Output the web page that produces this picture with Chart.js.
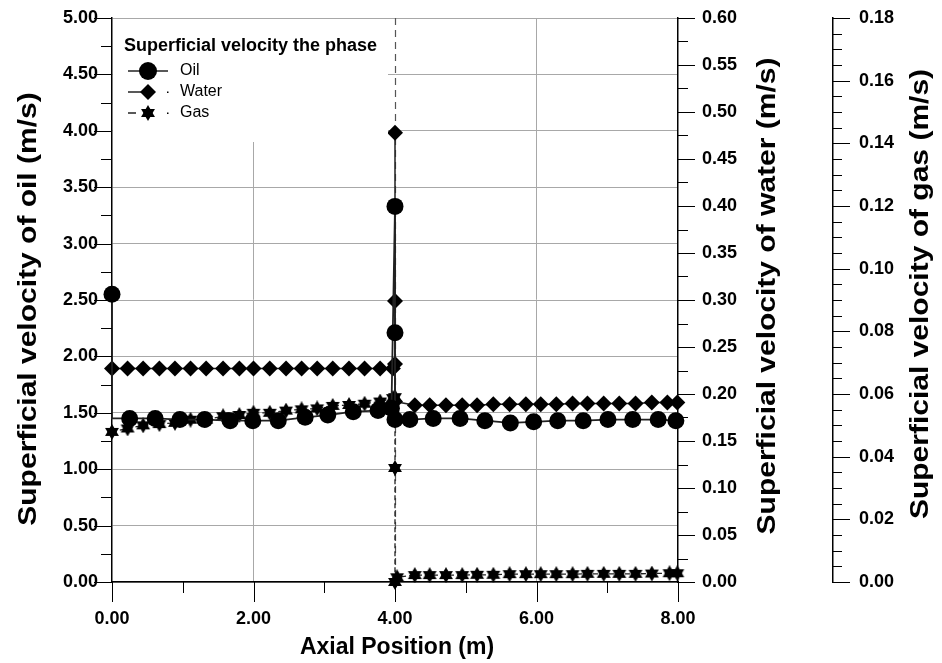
<!DOCTYPE html>
<html>
<head>
<meta charset="utf-8">
<script src="https://cdn.jsdelivr.net/npm/chart.js@4.4.1/dist/chart.umd.min.js"></script>
<style>
  html, body { margin: 0; padding: 0; background: #fff; }
  #wrap { width: 942px; height: 663px; }
</style>
</head>
<body>
<div id="wrap"><canvas id="chart" width="942" height="663"></canvas></div>
<script>
// Axial position (m) and superficial velocity of oil (m/s)
const oilX = [0, 0, 0.25, 0.61, 0.96, 1.31, 1.67, 1.99, 2.35, 2.73, 3.05, 3.41, 3.76, 3.95,
  4.0, 4.0, 4.0, 4.21, 4.54, 4.92, 5.27, 5.63, 5.96, 6.30, 6.66, 7.01, 7.36, 7.72, 7.97];
const oilY = [2.55, 1.45, 1.45, 1.45, 1.44, 1.44, 1.43, 1.43, 1.43, 1.46, 1.48, 1.51, 1.52, 1.54,
  3.33, 2.21, 1.44, 1.44, 1.45, 1.45, 1.43, 1.41, 1.42, 1.43, 1.43, 1.44, 1.44, 1.44, 1.43];

// water (m/s), right axis
const waterX = [0, 0.22, 0.44, 0.67, 0.89, 1.11, 1.33, 1.57, 1.80, 2.00, 2.23, 2.46, 2.68, 2.90,
  3.12, 3.35, 3.57, 3.79, 3.97, 4.0, 4.0, 4.0, 4.0, 4.28, 4.49, 4.72, 4.95, 5.16, 5.39, 5.62,
  5.85, 6.06, 6.28, 6.51, 6.72, 6.95, 7.17, 7.40, 7.63, 7.85, 7.99];
const waterY = [0.227, 0.227, 0.227, 0.227, 0.227, 0.227, 0.227, 0.227, 0.227, 0.227, 0.227,
  0.227, 0.227, 0.227, 0.227, 0.227, 0.227, 0.227, 0.227, 0.232, 0.299, 0.478, 0.192, 0.188,
  0.188, 0.188, 0.188, 0.188, 0.189, 0.189, 0.189, 0.189, 0.189, 0.190, 0.190, 0.190, 0.190,
  0.190, 0.191, 0.191, 0.191];

// gas (m/s), outer right axis
const gasX = [0, 0.22, 0.44, 0.67, 0.89, 1.11, 1.33, 1.57, 1.80, 2.00, 2.23, 2.46, 2.68, 2.90,
  3.12, 3.35, 3.57, 3.79, 3.97, 4.0, 4.0, 4.0, 4.03, 4.28, 4.49, 4.72, 4.95, 5.16, 5.39, 5.62,
  5.85, 6.06, 6.28, 6.51, 6.72, 6.95, 7.17, 7.40, 7.63, 7.88, 7.99];
const gasY = [0.0479, 0.0490, 0.0500, 0.0504, 0.0508, 0.0518, 0.0518, 0.0529, 0.0533, 0.0540,
  0.0540, 0.0547, 0.0551, 0.0554, 0.0562, 0.0565, 0.0569, 0.0576, 0.0587, 0.0590, 0.0364, 0.0,
  0.0015, 0.0022, 0.0022, 0.0022, 0.0022, 0.0023, 0.0023, 0.0025, 0.0025, 0.0025, 0.0025,
  0.0025, 0.0026, 0.0026, 0.0026, 0.0026, 0.0027, 0.0028, 0.0028];

// axis ranges and tick steps
const xRange = [0, 8], xMajor = 2, xMinor = 1;
const oilRange = [0, 5], oilMajor = 0.5, oilMinor = 0.25;
const waterRange = [0, 0.6], waterMajor = 0.05, waterMinor = 0.025;
const gasRange = [0, 0.18], gasMajor = 0.02, gasMinor = 0.005;
const seriesNames = ['Oil', 'Water', 'Gas'];

const FONT = '"Liberation Sans", Arial, sans-serif';
const ink = '#000';
const lineInk = '#222';
const gridInk = '#a8a8a8';

function pts(xs, ys) { return xs.map((x, i) => ({ x: x, y: ys[i] })); }

// six pointed star marker
function hexagram(size) {
  const c = document.createElement('canvas');
  c.width = c.height = size;
  const g = c.getContext('2d');
  const r = size / 2;
  g.fillStyle = ink;
  for (let k = 0; k < 2; k++) {
    g.beginPath();
    for (let i = 0; i < 3; i++) {
      const a = -Math.PI / 2 + k * Math.PI + i * 2 * Math.PI / 3;
      g.lineTo(r + r * Math.cos(a), r + r * Math.sin(a));
    }
    g.closePath();
    g.fill();
  }
  return c;
}
const starImg = hexagram(16);

// minor/major tick marks drawn outside each axis
function tickMarks(ctx, scale, range, major, minor, side, majLen, minLen) {
  const n = Math.round((range[1] - range[0]) / minor);
  const every = Math.round(major / minor);
  ctx.beginPath();
  for (let i = 0; i <= n; i++) {
    const v = range[0] + i * minor;
    const len = i % every === 0 ? majLen : minLen;
    const p = Math.round(scale.getPixelForValue(v)) + 0.5;
    if (side === 'bottom') { ctx.moveTo(p, scale.top); ctx.lineTo(p, scale.top + len); }
    else if (side === 'left') { ctx.moveTo(scale.right, p); ctx.lineTo(scale.right - len, p); }
    else { ctx.moveTo(scale.left, p); ctx.lineTo(scale.left + len, p); }
  }
  ctx.stroke();
}

// keep tick label overflow from pushing the plot area down
const noPad = sc => { sc.paddingTop = 0; sc.paddingBottom = 0; };

const decorPlugin = {
  id: 'decor',
  beforeDatasetsDraw(chart) {
    const ctx = chart.ctx, a = chart.chartArea;
    const x4 = chart.scales.x.getPixelForValue(4);
    ctx.save();
    ctx.strokeStyle = '#555';
    ctx.lineWidth = 1.2;
    ctx.setLineDash([7, 5]);
    ctx.beginPath();
    ctx.moveTo(Math.round(x4) + 0.5, a.top);
    ctx.lineTo(Math.round(x4) + 0.5, a.bottom);
    ctx.stroke();
    ctx.restore();
  },
  afterDraw(chart) {
    const ctx = chart.ctx, s = chart.scales, a = chart.chartArea;
    ctx.save();
    ctx.strokeStyle = ink;
    ctx.lineWidth = 1;
    tickMarks(ctx, s.x, xRange, xMajor, xMinor, 'bottom', 20, 11);
    tickMarks(ctx, s.y, oilRange, oilMajor, oilMinor, 'left', 18, 11);
    tickMarks(ctx, s.yW, waterRange, waterMajor, waterMinor, 'right', 17, 10);
    tickMarks(ctx, s.yG, gasRange, gasMajor, gasMinor, 'right', 17, 9);

    // axis titles
    ctx.fillStyle = ink;
    ctx.textAlign = 'center';
    ctx.textBaseline = 'middle';
    ctx.font = 'bold 23px ' + FONT;
    ctx.fillText('Axial Position (m)', 397, 648);
    ctx.font = 'bold 25px ' + FONT;
    const vt = (txt, x, y) => {
      ctx.save(); ctx.translate(x, y); ctx.rotate(-Math.PI / 2); ctx.scale(1.2, 1);
      ctx.fillText(txt, 0, 0); ctx.restore();
    };
    vt('Superficial velocity of oil (m/s)', 29, 309);
    vt('Superficial velocity of water (m/s)', s.yW.left + 90, 296);
    vt('Superficial velocity of gas (m/s)', s.yG.left + 88, 294);

    // legend box
    ctx.fillStyle = '#fff';
    ctx.fillRect(a.left + 1, a.top + 1, 275, 123);
    ctx.fillStyle = ink;
    ctx.textAlign = 'left';
    ctx.font = 'bold 18px ' + FONT;
    ctx.fillText('Superficial velocity the phase', a.left + 12, a.top + 28);
    ctx.font = '16px ' + FONT;
    const rows = [53, 74, 95];
    const lx = a.left + 16, mx = a.left + 36, rx = a.left + 56;
    ctx.strokeStyle = lineInk;
    ctx.lineWidth = 1.5;
    rows.forEach((dy, i) => {
      const y = a.top + dy;
      ctx.beginPath();
      if (i === 0) { ctx.moveTo(lx, y); ctx.lineTo(rx, y); }
      else if (i === 1) { ctx.moveTo(lx, y); ctx.lineTo(mx, y); }
      else { ctx.moveTo(lx, y); ctx.lineTo(lx + 8, y); }
      ctx.stroke();
      if (i > 0) { ctx.fillRect(rx - 1, y - 0.5, 1.5, 1.5); }
      ctx.beginPath();
      if (i === 0) { ctx.arc(mx, y, 9, 0, Math.PI * 2); ctx.fill(); }
      else if (i === 1) {
        ctx.moveTo(mx, y - 8); ctx.lineTo(mx + 8, y); ctx.lineTo(mx, y + 8); ctx.lineTo(mx - 8, y);
        ctx.closePath(); ctx.fill();
      } else { ctx.drawImage(starImg, mx - 8, y - 8); }
      ctx.fillText(seriesNames[i], a.left + 68, y);
    });
    ctx.restore();
  }
};

const fmt2 = v => Number(v).toFixed(2);
const tickFont = { family: FONT, size: 18, weight: 'bold' };

new Chart(document.getElementById('chart').getContext('2d'), {
  type: 'scatter',
  data: {
    datasets: [
      {
        label: 'Oil', data: pts(oilX, oilY), yAxisID: 'y', showLine: true,
        borderColor: lineInk, borderWidth: 1.8, backgroundColor: ink,
        pointStyle: 'circle', pointRadius: c => (c.dataIndex === 1 ? 0 : 8.5),
        pointBorderWidth: 0, pointBackgroundColor: ink, clip: false
      },
      {
        label: 'Water', data: pts(waterX, waterY), yAxisID: 'yW', showLine: true,
        borderColor: lineInk, borderWidth: 1.5, backgroundColor: ink,
        pointStyle: 'rectRot', pointRadius: 8, pointBorderWidth: 0,
        pointBackgroundColor: ink, clip: false
      },
      {
        label: 'Gas', data: pts(gasX, gasY), yAxisID: 'yG', showLine: true,
        borderColor: lineInk, borderWidth: 1.3, borderDash: [5, 3],
        pointStyle: starImg, pointRadius: 8, clip: false
      }
    ]
  },
  options: {
    responsive: false,
    animation: false,
    layout: { padding: { top: 18, left: 0, right: 0, bottom: 0 } },
    plugins: { legend: { display: false }, tooltip: { enabled: false } },
    scales: {
      x: {
        type: 'linear', position: 'bottom', min: xRange[0], max: xRange[1],
        afterFit: sc => { sc.height = 81; sc.paddingLeft = 0; sc.paddingRight = 0; },
        ticks: { stepSize: xMajor, callback: fmt2, font: tickFont, color: ink, padding: 26, maxRotation: 0 },
        grid: {
          drawTicks: false, lineWidth: 1,
          color: c => ((c.tick && (c.tick.value === 2 || c.tick.value === 6)) ? gridInk : 'rgba(0,0,0,0)')
        },
        border: { color: ink, width: 1.5 }
      },
      y: {
        type: 'linear', position: 'left', min: oilRange[0], max: oilRange[1],
        afterFit: sc => { sc.width = 112; noPad(sc); },
        ticks: { stepSize: oilMajor, callback: fmt2, font: tickFont, color: ink, padding: 14 },
        grid: { drawTicks: false, color: gridInk, lineWidth: 1 },
        border: { color: ink, width: 1.5 }
      },
      yW: {
        type: 'linear', position: 'right', weight: 1, min: waterRange[0], max: waterRange[1],
        afterFit: sc => { sc.width = 155; noPad(sc); },
        ticks: { stepSize: waterMajor, callback: fmt2, font: tickFont, color: ink, padding: 24 },
        grid: { display: false, drawTicks: false },
        border: { color: ink, width: 1.5 }
      },
      yG: {
        type: 'linear', position: 'right', weight: 2, min: gasRange[0], max: gasRange[1],
        afterFit: sc => { sc.width = 109; noPad(sc); },
        ticks: { stepSize: gasMajor, callback: fmt2, font: tickFont, color: ink, padding: 26 },
        grid: { display: false, drawTicks: false },
        border: { color: ink, width: 1.5 }
      }
    }
  },
  plugins: [decorPlugin]
});
</script>
</body>
</html>
